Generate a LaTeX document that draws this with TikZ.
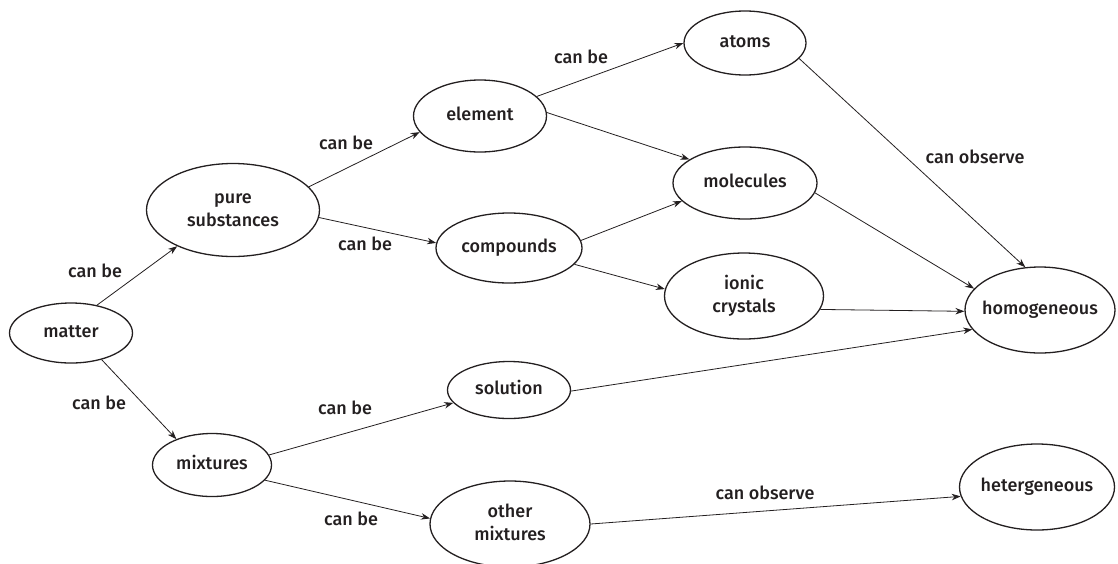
\documentclass[tikz,border=0pt]{standalone}
\usepackage{fontspec}
\setmainfont{Fira Sans}[UprightFont={* Medium}]
\usetikzlibrary{shapes.geometric, arrows.meta}
\definecolor{ink}{HTML}{231F20}

% text box of zero width, so the ellipse keeps its given size
\newcommand{\ctext}[1]{\makebox[0pt]{\begin{tabular}{@{}c@{}}#1\end{tabular}}}

\tikzset{
  concept/.style={ellipse, draw=ink, line width=1.3pt, inner sep=0pt,
    text=ink, font=\fontsize{18}{23}\selectfont},
  link/.style={draw=ink, line width=0.8pt, -{Stealth[length=9pt, width=6.5pt]}},
  linklabel/.style={text=ink, font=\fontsize{18}{22}\selectfont}
}

\begin{document}
\begin{tikzpicture}[x=1pt, y=-1pt]
  \useasboundingbox (0,0) rectangle (1118,563);

  % concepts
  \node[concept, minimum width=123pt, minimum height=60pt] (matter) at (71,333) {\ctext{matter}};
  \node[concept, minimum width=173pt, minimum height=93pt] (pure) at (233,210) {\ctext{pure\\substances}};
  \node[concept, minimum width=119pt, minimum height=63pt] (mixtures) at (212,465) {\ctext{mixtures}};
  \node[concept, minimum width=133pt, minimum height=72pt] (element) at (480,116) {\ctext{element}};
  \node[concept, minimum width=146pt, minimum height=70pt] (compounds) at (509,248) {\ctext{compounds}};
  \node[concept, minimum width=123pt, minimum height=57pt] (solution) at (509,390) {\ctext{solution}};
  \node[concept, minimum width=160pt, minimum height=86pt] (other) at (510,524) {\ctext{other\\mixtures}};
  \node[concept, minimum width=122pt, minimum height=64pt] (atoms) at (745,43) {\ctext{atoms}};
  \node[concept, minimum width=144pt, minimum height=72pt] (molecules) at (745,183) {\ctext{molecules}};
  \node[concept, minimum width=159pt, minimum height=86pt] (ionic) at (744,296) {\ctext{ionic\\crystals}};
  \node[concept, minimum width=150pt, minimum height=86pt] (homog) at (1040,310) {\ctext{homogeneous}};
  \node[concept, minimum width=155pt, minimum height=86pt] (heterog) at (1037,487) {\ctext{hetergeneous}};

  % links
  \draw[link] (matter.47) -- (pure.213);
  \draw[link] (matter.319) -- (mixtures.144);
  \draw[link] (pure.17) -- (element.195);
  \draw[link] (pure.355) -- (compounds.176);
  \draw[link] (element.19) -- (atoms.180);
  \draw[link] (element.3) -- (molecules.157);
  \draw[link] (compounds.6) -- (molecules.196);
  \draw[link] (compounds.346) -- (ionic.175);
  \draw[link] (atoms.344) -- (homog.109);
  \draw[link] (molecules.352) -- (homog.162);
  \draw[link] (ionic.350) -- (homog.181);
  \draw[link] (solution.359) -- (homog.196);
  \draw[link] (mixtures.10) -- (solution.193);
  \draw[link] (mixtures.344) -- (other.176);
  \draw[link] (other.0) -- (heterog.187);

  % link labels
  \node[linklabel] (lbPure) at (95,271) {can be};
  \node[linklabel] (lbMix) at (99,403) {can be};
  \node[linklabel] (lbElem) at (346,143) {can be};
  \node[linklabel] (lbComp) at (365,244) {can be};
  \node[linklabel] (lbAtoms) at (581,57) {can be};
  \node[linklabel] (lbObsA) at (975,157) {can observe};
  \node[linklabel] (lbSol) at (345,408) {can be};
  \node[linklabel] (lbOther) at (351,519) {can be};
  \node[linklabel] (lbObsB) at (765,493) {can observe};
\end{tikzpicture}
\end{document}
